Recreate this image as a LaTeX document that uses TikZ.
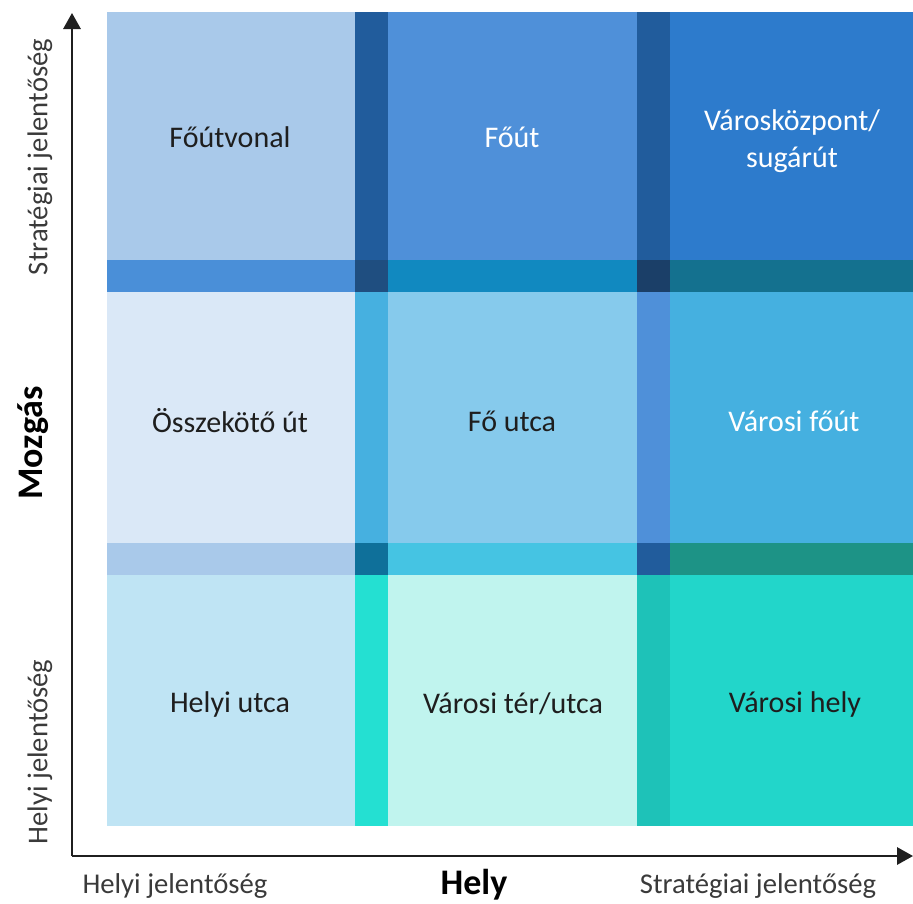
\documentclass[tikz,border=0pt]{standalone}
\usepackage{fontspec}
\setmainfont{Carlito}
\usetikzlibrary{arrows.meta}
\definecolor{aA}{HTML}{A9C9EA}
\definecolor{aB}{HTML}{4F90D9}
\definecolor{aC}{HTML}{2D7BCC}
\definecolor{vA}{HTML}{215C9C}
\definecolor{hA}{HTML}{4A8FD8}
\definecolor{iA}{HTML}{1F4E80}
\definecolor{hB}{HTML}{1189C0}
\definecolor{iB}{HTML}{1B3F68}
\definecolor{hC}{HTML}{14718F}
\definecolor{bA}{HTML}{DAE8F7}
\definecolor{vB}{HTML}{46B0E0}
\definecolor{bB}{HTML}{86CAEC}
\definecolor{vC}{HTML}{4F90D9}
\definecolor{bC}{HTML}{45B0E0}
\definecolor{gA}{HTML}{A9C9EA}
\definecolor{jA}{HTML}{0F709A}
\definecolor{gB}{HTML}{45C4E3}
\definecolor{jB}{HTML}{215C9C}
\definecolor{gC}{HTML}{1D9386}
\definecolor{cA}{HTML}{BFE4F4}
\definecolor{vD}{HTML}{24E0D2}
\definecolor{cB}{HTML}{C0F4EE}
\definecolor{vE}{HTML}{1EC2B8}
\definecolor{cC}{HTML}{22D6CA}
\definecolor{ink}{HTML}{1E1E1E}
\definecolor{axisgray}{HTML}{3A3A3A}
\definecolor{axisline}{HTML}{1F1F1F}
\begin{document}
\begin{tikzpicture}[x=0.75pt,y=-0.75pt,
  celltext/.style={font=\fontsize{22.5}{27.5}\selectfont,align=center,text=ink},
  lighttext/.style={celltext,text=white},
  axislabel/.style={font=\fontsize{21.5}{26}\selectfont,text=axisgray},
  axistitle/.style={font=\fontsize{27}{32}\selectfont\bfseries,text=black},
  axisarrow/.style={draw=axisline,line width=1.6pt,-{Triangle[length=12pt,width=13pt]}}]
\useasboundingbox (0,0) rectangle (913,903);
% grid of cells (columns 107-355, 388-637, 670-913; rows 12-260, 292-543, 575-826)
% row 1
\fill[aA] (107,12) rectangle (355,260);
\fill[vA] (355,12) rectangle (388,260);
\fill[aB] (388,12) rectangle (637,260);
\fill[vA] (637,12) rectangle (670,260);
\fill[aC] (670,12) rectangle (913,260);
% band between rows 1 and 2
\fill[hA] (107,260) rectangle (355,292);
\fill[iA] (355,260) rectangle (388,292);
\fill[hB] (388,260) rectangle (637,292);
\fill[iB] (637,260) rectangle (670,292);
\fill[hC] (670,260) rectangle (913,292);
% row 2
\fill[bA] (107,292) rectangle (355,543);
\fill[vB] (355,292) rectangle (388,543);
\fill[bB] (388,292) rectangle (637,543);
\fill[vC] (637,292) rectangle (670,543);
\fill[bC] (670,292) rectangle (913,543);
% band between rows 2 and 3
\fill[gA] (107,543) rectangle (355,575);
\fill[jA] (355,543) rectangle (388,575);
\fill[gB] (388,543) rectangle (637,575);
\fill[jB] (637,543) rectangle (670,575);
\fill[gC] (670,543) rectangle (913,575);
% row 3
\fill[cA] (107,575) rectangle (355,826);
\fill[vD] (355,575) rectangle (388,826);
\fill[cB] (388,575) rectangle (637,826);
\fill[vE] (637,575) rectangle (670,826);
\fill[cC] (670,575) rectangle (913,826);
% cell labels
\node[celltext]  (t11) at (230,137) {Főútvonal};
\node[lighttext] (t12) at (512,137) {Főút};
\node[lighttext] (t13) at (792,141) {Városközpont/\\sugárút};
\node[celltext]  (t21) at (230,421) {Összekötő út};
\node[celltext]  (t22) at (512,421) {Fő utca};
\node[lighttext] (t23) at (794,421) {Városi főút};
\node[celltext]  (t31) at (230,704) {Helyi utca};
\node[celltext]  (t32) at (513,704) {Városi tér/utca};
\node[celltext]  (t33) at (795,704) {Városi hely};
% axes
\coordinate (origin) at (72,856);
\coordinate (ytip) at (72,13);
\coordinate (xtip) at (913,856);
\draw[axisarrow] (origin) -- (ytip);
\draw[axisarrow] (origin) -- (xtip);
% axis labels
\node[axislabel,rotate=90] (ytop) at (40,157) {Stratégiai jelentőség};
\node[axislabel,rotate=90] (ybot) at (40,752) {Helyi jelentőség};
\node[axistitle,rotate=90] (ytitle) at (33,443) {Mozgás};
\node[axislabel] (xleft) at (175,886) {Helyi jelentőség};
\node[axistitle] (xtitle) at (474,885) {Hely};
\node[axislabel] (xright) at (758,886) {Stratégiai jelentőség};
\end{tikzpicture}
\end{document}
